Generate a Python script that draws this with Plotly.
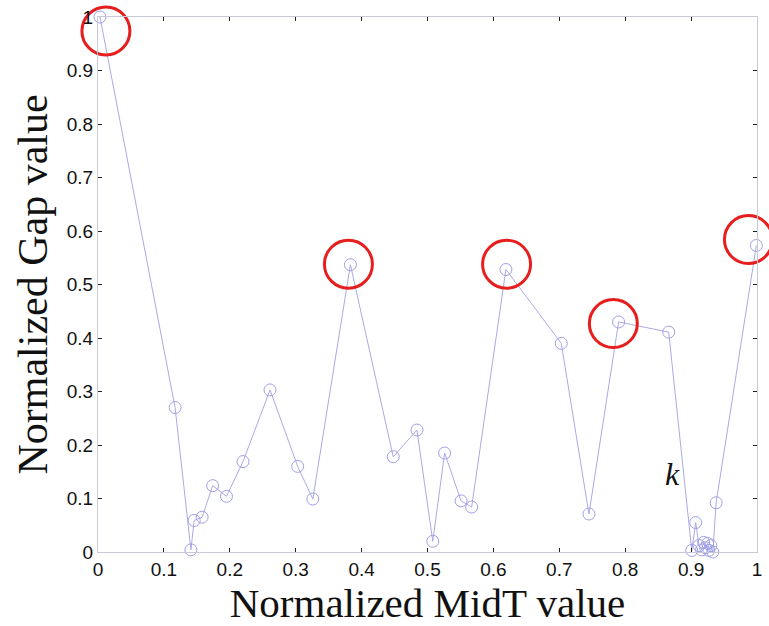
import plotly.graph_objects as go

midt = [0.003, 0.117, 0.141, 0.146, 0.158, 0.174, 0.195, 0.220, 0.261, 0.303, 0.326,
        0.383, 0.448, 0.484, 0.508, 0.526, 0.551, 0.567, 0.619, 0.703, 0.745, 0.790,
        0.866, 0.901, 0.907, 0.912, 0.916, 0.919, 0.922, 0.925, 0.927, 0.930, 0.933,
        0.938, 0.999]
gap = [1.000, 0.270, 0.004, 0.059, 0.065, 0.124, 0.104, 0.169, 0.303, 0.160, 0.099,
       0.537, 0.178, 0.228, 0.020, 0.185, 0.0955, 0.084, 0.528, 0.390, 0.071, 0.430,
       0.411, 0.003, 0.055, 0.012, 0.004, 0.018, 0.008, 0.016, 0.003, 0.012, 0.000,
       0.092, 0.573]

# highlighted peaks (red circles)
peak_x = [0.012, 0.380, 0.620, 0.782, 0.987]
peak_y = [0.974, 0.538, 0.538, 0.427, 0.584]

tick_vals = [0, 0.1, 0.2, 0.3, 0.4, 0.5, 0.6, 0.7, 0.8, 0.9, 1]
tick_text = ["0", "0.1", "0.2", "0.3", "0.4", "0.5", "0.6", "0.7", "0.8", "0.9", "1"]

fig = go.Figure()
fig.add_trace(go.Scatter(
    x=midt, y=gap, mode="lines+markers",
    line=dict(color="rgb(170,170,230)", width=1),
    marker=dict(symbol="circle-open", size=12, color="rgb(160,160,230)", line=dict(width=1)),
    cliponaxis=False, showlegend=False,
))
fig.add_trace(go.Scatter(
    x=peak_x, y=peak_y, mode="markers",
    marker=dict(symbol="circle-open", size=48, color="rgb(230,30,30)", line=dict(width=3)),
    cliponaxis=False, showlegend=False,
))

axis_common = dict(
    range=[0, 1], tickvals=tick_vals, ticktext=tick_text,
    ticks="inside", ticklen=4, tickcolor="#222", tickwidth=1,
    showline=True, linecolor="rgb(200,200,215)", linewidth=1, mirror="ticks",
    showgrid=False, zeroline=False,
    tickfont=dict(family="Liberation Sans, Arial", size=19, color="#111"),
)

fig.update_layout(
    width=769, height=626,
    margin=dict(l=98, r=7, t=17, b=74),
    paper_bgcolor="white", plot_bgcolor="white",
    xaxis=dict(**axis_common,
               title=dict(text="Normalized MidT value", standoff=4,
                          font=dict(family="Liberation Serif, Times New Roman", size=41, color="#111"))),
    yaxis=dict(**axis_common,
               title=dict(text="Normalized Gap value", standoff=6,
                          font=dict(family="Liberation Serif, Times New Roman", size=42, color="#111"))),
    annotations=[dict(x=0.872, y=0.145, xref="x", yref="y", text="<i>k</i>", showarrow=False,
                      font=dict(family="Liberation Serif, Times New Roman", size=32, color="#111"))],
)

fig.write_html("out.html")
